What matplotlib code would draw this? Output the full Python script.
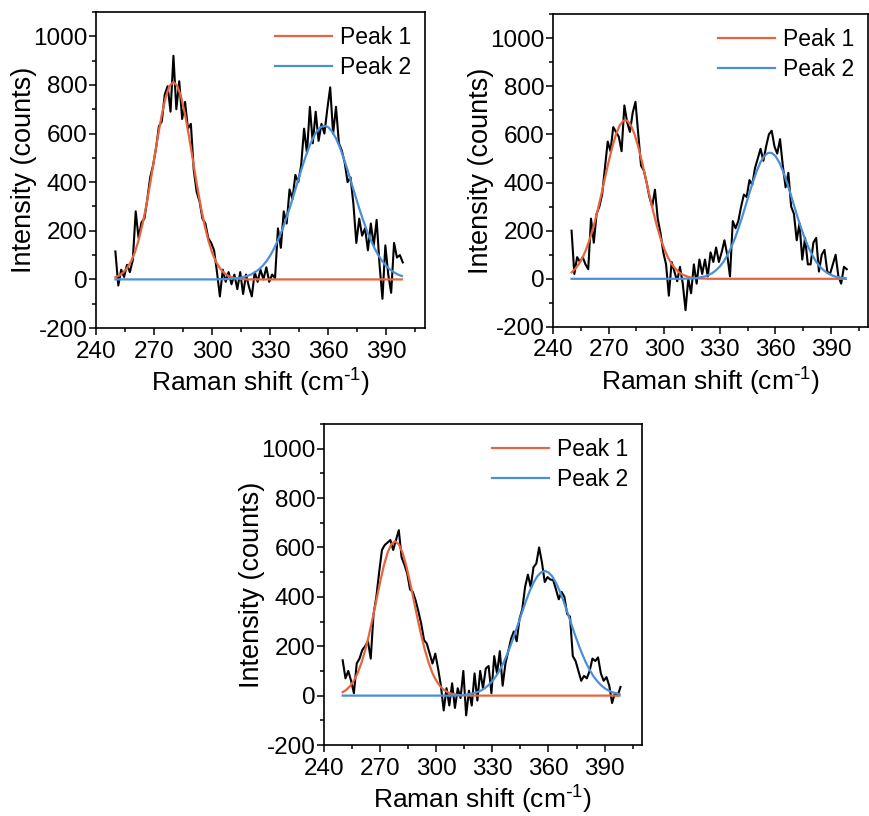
import numpy as np
import matplotlib
matplotlib.use('Agg')
import matplotlib.pyplot as plt
from matplotlib.ticker import MultipleLocator

plt.rcParams['font.family'] = ['Liberation Sans', 'DejaVu Sans']
plt.rcParams['mathtext.default'] = 'regular'
plt.rcParams['axes.unicode_minus'] = False

# measured spectra, 250 - 398.5 cm-1, step 1.5
raw_x = np.arange(250, 399, 1.5)
# fitted peaks, 250 - 398 cm-1, step 2
fit_x = np.arange(250, 399, 2)

raw_a = [115, -25, 40, 10, 60, 30, 80, 280, 170, 235,
         250, 330, 420, 470, 540, 630, 650, 760, 795, 690,
         920, 700, 815, 660, 730, 620, 640, 450, 360, 320,
         250, 230, 170, 150, 120, 30, -70, 40, -10, 30,
         -20, 20, -40, 30, -60, 20, -30, -70, 30, -10,
         40, 0, 50, -10, 20, 5, 210, 130, 280, 230,
         370, 330, 430, 400, 470, 620, 520, 710, 560, 690,
         570, 640, 600, 700, 790, 600, 710, 560, 530, 480,
         400, 420, 310, 150, 250, 180, 210, 120, 230, 140,
         245, 60, -80, 140, 20, -55, 150, 90, 100, 70]
peak1_a = [9, 16, 28, 46, 72, 110, 161, 226, 305, 395,
           493, 590, 678, 750, 796, 812, 796, 750, 678, 590,
           493, 395, 305, 226, 161, 110, 72, 46, 28, 16,
           9, 5, 3, 1] + [0] * 41
peak2_a = [0] * 27 + [1, 1, 2, 3, 4, 6, 10, 14, 20, 29,
                      40, 55, 74, 98, 127, 161, 200, 244, 292, 344,
                      396, 449, 498, 543, 580, 608, 626, 632, 626, 608,
                      580, 543, 498, 449, 396, 344, 292, 244, 200, 161,
                      127, 98, 74, 55, 40, 29, 20, 14]

raw_b = [200, 20, 90, 70, 90, 60, 40, 250, 150, 270,
         300, 350, 460, 570, 530, 630, 610, 590, 530, 720,
         650, 610, 690, 735, 600, 470, 450, 400, 340, 300,
         370, 250, 190, 110, 60, -70, 70, 30, -10, 50,
         -20, -130, 0, -60, 60, -20, 80, 20, 80, 10,
         110, 70, 130, 70, 110, 160, 100, 10, 240, 210,
         240, 300, 350, 340, 410, 390, 460, 500, 540, 490,
         550, 600, 615, 550, 520, 580, 470, 380, 440, 300,
         270, 160, 230, 80, 170, 60, 60, 150, 170, 30,
         100, 120, 30, 20, 60, 100, 10, -20, 50, 40]
peak1_b = [27, 42, 62, 89, 125, 169, 221, 282, 348, 418,
           486, 548, 600, 638, 657, 657, 638, 600, 548, 486,
           418, 348, 282, 221, 169, 125, 89, 62, 42, 27,
           17, 11, 6, 4, 2, 1, 1] + [0] * 38
peak2_b = [0] * 31 + [1, 1, 2, 4, 7, 10, 16, 24, 36, 51,
                      71, 97, 128, 165, 208, 255, 306, 357, 405, 449,
                      485, 510, 523, 523, 510, 485, 449, 405, 357, 306,
                      255, 208, 165, 128, 97, 71, 51, 36, 24, 16,
                      10, 7, 4, 2]

raw_c = [143, 70, 100, 60, 10, 130, 150, 185, 200, 220,
         150, 330, 400, 500, 590, 610, 620, 630, 590, 630,
         670, 560, 530, 495, 430, 420, 385, 340, 290, 225,
         210, 170, 130, 170, 110, 40, -60, 30, -40, 50,
         -50, 30, -10, 100, -80, 20, -40, 90, -20, 100,
         30, 110, 120, 10, 160, 90, 180, 40, 130, 180,
         230, 260, 220, 310, 350, 440, 490, 440, 520, 535,
         600, 540, 460, 480, 470, 468, 430, 390, 420, 400,
         330, 320, 160, 140, 100, 60, 80, 70, 100, 150,
         140, 155, 90, 60, 75, 40, -30, 10, 0, 35]
peak1_c = [14, 24, 39, 61, 91, 132, 183, 244, 313, 386,
           459, 526, 579, 613, 625, 613, 579, 526, 459, 386,
           313, 244, 183, 132, 91, 61, 39, 24, 14, 8,
           5, 2, 1, 1] + [0] * 41
peak2_c = [0] * 30 + [1, 1, 2, 4, 6, 10, 14, 21, 30, 43,
                      59, 79, 104, 134, 169, 208, 250, 295, 340, 384,
                      424, 457, 483, 499, 505, 499, 483, 457, 424, 384,
                      340, 295, 250, 208, 169, 134, 104, 79, 59, 43,
                      30, 21, 14, 10, 6]

orange = '#e8643f'
blue = '#4a8fd8'

fig = plt.figure(figsize=(8.69, 8.16), dpi=100)
positions = [[0.1105, 0.598, 0.3786, 0.3873],
             [0.6364, 0.5993, 0.3625, 0.3836],
             [0.3728, 0.087, 0.366, 0.3934]]
panels = [(raw_a, peak1_a, peak2_a), (raw_b, peak1_b, peak2_b),
          (raw_c, peak1_c, peak2_c)]

for pos, (raw, p1, p2) in zip(positions, panels):
    ax = fig.add_axes(pos)
    ax.plot(raw_x, raw, color='black', lw=1.5)
    ax.plot(fit_x, p1, color=orange, lw=1.6, label='Peak 1')
    ax.plot(fit_x, p2, color=blue, lw=1.6, label='Peak 2')
    ax.set_xlim(240, 410)
    ax.set_ylim(-200, 1100)
    ax.xaxis.set_major_locator(MultipleLocator(30))
    ax.xaxis.set_minor_locator(MultipleLocator(15))
    ax.yaxis.set_major_locator(MultipleLocator(200))
    ax.yaxis.set_minor_locator(MultipleLocator(100))
    ax.tick_params(which='both', direction='out', top=False, right=False,
                   labelsize=17.5, width=1.1)
    ax.tick_params(axis='y', which='both', pad=1)
    ax.tick_params(axis='x', which='both', pad=4)
    ax.tick_params(which='major', length=5)
    ax.tick_params(which='minor', length=3)
    for s in ax.spines.values():
        s.set_linewidth(1.2)
    ax.set_xlabel(r'Raman shift (cm$^{\text{-}1}$)', fontsize=19, labelpad=3)
    ax.set_ylabel('Intensity (counts)', fontsize=19.5, labelpad=-2.5)
    ax.legend(loc='upper right', frameon=False, fontsize=16.5,
              handlelength=2.5, handletextpad=0.35, labelspacing=0.3,
              borderaxespad=0.4, borderpad=0.2)

fig.savefig('out.png', dpi=100)
